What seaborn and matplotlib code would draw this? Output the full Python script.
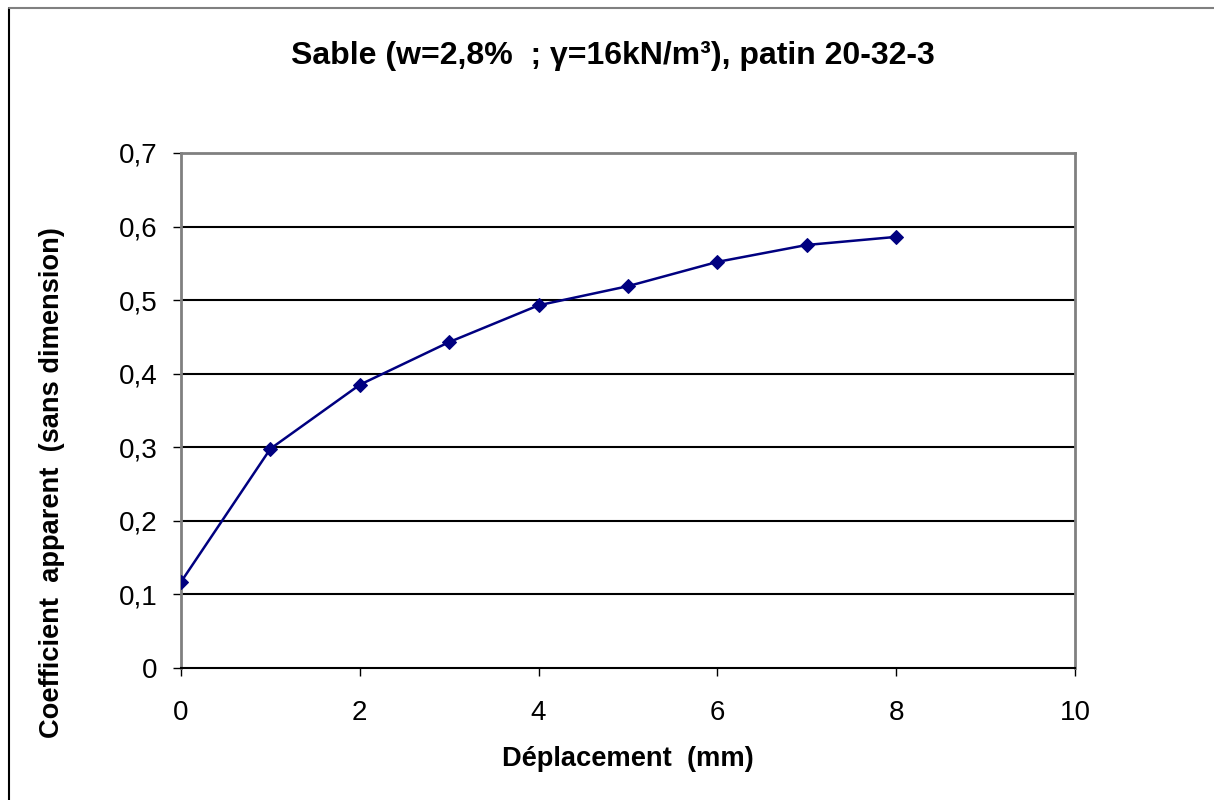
import matplotlib
matplotlib.use("Agg")
import matplotlib.pyplot as plt
import seaborn as sns
import pandas as pd
from matplotlib.lines import Line2D
from matplotlib.ticker import FuncFormatter

deplacement = [0, 1, 2, 3, 4, 5, 6, 7, 8]
coefficient = [0.117, 0.298, 0.385, 0.443, 0.493, 0.519, 0.552, 0.575, 0.586]
x_ticks = [0, 2, 4, 6, 8, 10]
y_ticks = [0, 0.1, 0.2, 0.3, 0.4, 0.5, 0.6, 0.7]
title = "Sable (w=2,8%  ; \u03b3=16kN/m\u00b3), patin 20-32-3"
xlabel = "Déplacement  (mm)"
ylabel = "Coefficient  apparent  (sans dimension)"

sns.set_theme(style="white")
plt.rcParams['font.family'] = ['Liberation Sans', 'DejaVu Sans']
plt.rcParams['text.color'] = 'black'
plt.rcParams['axes.labelcolor'] = 'black'

df = pd.DataFrame({"x": deplacement, "y": coefficient})

fig = plt.figure(figsize=(12.14, 8.0), dpi=100)
fig.patch.set_facecolor("white")
ax = fig.add_axes([181/1214, 132/800, 894/1214, 515/800])

for yv in y_ticks[1:-1]:
    ax.axhline(yv, color="black", lw=1.5, zorder=1)

sns.lineplot(data=df, x="x", y="y", ax=ax, color="#000080", lw=1.8,
             marker="D", markersize=7, markeredgecolor="#000080", zorder=3)

ax.set_xlim(0, 10)
ax.set_ylim(0, 0.7)
ax.set_xticks(x_ticks)
ax.set_yticks(y_ticks)
fmt = FuncFormatter(lambda v, p: ("%g" % round(v, 2)).replace(".", ","))
ax.xaxis.set_major_formatter(fmt)
ax.yaxis.set_major_formatter(fmt)
ax.tick_params(axis="both", which="major", direction="out", length=6, width=1,
               color="black", labelsize=20, labelcolor="black", bottom=True, left=True)
ax.tick_params(axis="x", pad=17)
ax.tick_params(axis="y", pad=11)

for s in ["left", "top", "right"]:
    ax.spines[s].set_color("#808080")
    ax.spines[s].set_linewidth(2)
ax.spines["bottom"].set_color("black")
ax.spines["bottom"].set_linewidth(1.5)

ax.set_xlabel(xlabel, fontsize=19.6, fontweight="bold", color="black")
ax.set_ylabel(ylabel, fontsize=19.6, fontweight="bold", color="black")
ax.xaxis.set_label_coords(0.5, (668 - 759) / 515)
ax.yaxis.set_label_coords((52 - 181) / 894, (668 - 483) / 515)
ax.xaxis.label.set_va("center")
ax.yaxis.label.set_va("center")
fig.text(613/1214, 1 - 56/800, title, ha="center", va="center", fontsize=23,
         fontweight="bold", color="black")

fig.add_artist(Line2D([9/1214, 9/1214], [0, 1 - 8/800], transform=fig.transFigure, color="black", lw=1.5))
fig.add_artist(Line2D([9/1214, 1], [1 - 8/800, 1 - 8/800], transform=fig.transFigure, color="#808080", lw=1.5))

fig.savefig("out.png", dpi=100, facecolor="white")
